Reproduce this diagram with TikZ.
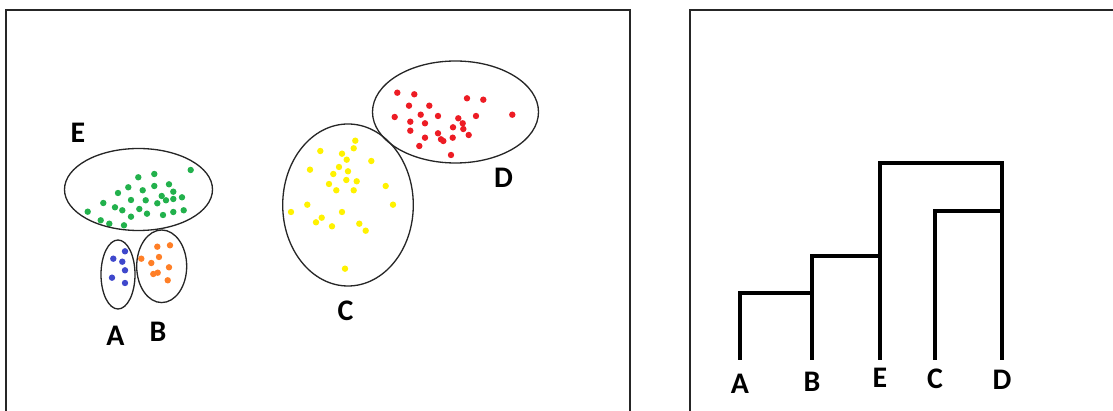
\documentclass[tikz,border=0pt]{standalone}
\usepackage{fontspec}
\setmainfont{Carlito}
\usepackage{xcolor}
\definecolor{ptgreen}{HTML}{22B14C}
\definecolor{ptblue}{HTML}{3F48CC}
\definecolor{ptorange}{HTML}{FF7F27}
\definecolor{ptyellow}{HTML}{FFF200}
\definecolor{ptred}{HTML}{ED1C24}

\begin{document}
\begin{tikzpicture}[x=0.02cm, y=-0.02cm,
    frame/.style={line width=1.3pt, black!85},
    cluster/.style={line width=0.75pt, black!85},
    link/.style={line width=2.3pt},
    lbl/.style={font=\fontsize{17}{20}\selectfont\bfseries, inner sep=0pt}]
  \useasboundingbox (0,0) rectangle (1113,411);

  % Draw the two panels, open at the bottom
  \draw[frame] (6,411) -- (6,10) -- (630,10) -- (630,411);
  \draw[frame] (690,411) -- (690,10) -- (1113,10);

  % points of each cluster
  \foreach \p in {(190.7,170),(154.3,174),(138.3,177.3),(128.3,187.3),(154.3,186),
    (169,184.3),(142.7,190.3),(118,193),(173.3,191.7),(161.7,196),(103.3,203),
    (131,200),(145.7,200.3),(157.3,203.3),(166,200.3),(173.3,199),(182,197.3),
    (115,207.3),(122.3,210.3),(139.3,209),(147,213.7),(131,216.7),(87.7,211.7),
    (163,215),(173.3,212),(183.7,210.3),(100.7,220.3),(109.3,223.7),(124,225.3)}
    \fill[ptgreen] \p circle (3.2);
  \foreach \p in {(125,251.3),(113.3,258.7),(122.3,261.7),(125,270.3),(112,277.7),(125,283)}
    \fill[ptblue] \p circle (3.2);
  \foreach \p in {(157.3,246.7),(170,245.3),(159,257),(141.3,258.7),(151.3,263),
    (169,267.3),(153.3,274),(157.7,272.7),(167.7,280.3)}
    \fill[ptorange] \p circle (3.2);
  \foreach \p in {(355.3,140.7),(353.7,148.3),(320.3,151),(342,153.7),(346.7,159.7),
    (371.3,161),(339,167),(310,169.7),(348,171.3),(333.3,174),(346.3,180),
    (356.7,181.3),(329,184),(385.7,186),(336.3,190.3),(353.7,190.3),(307.3,204.7),
    (393,204.7),(291,212),(342,212),(321.7,217.7),(316,222.3),(332,226.3),
    (359.3,223.7),(365.7,230.7),(345,268.7)}
    \fill[ptyellow] \p circle (3.2);
  \foreach \p in {(397.3,92.7),(414.3,94.3),(409,105.7),(429.3,105.7),(467,98.3),
    (483.3,99.7),(394.7,117),(420.7,114.7),(438,116),(476,116),(512.3,114.7),
    (410.3,121.7),(425,123.3),(458.3,118.3),(462.7,123.3),(453,127.3),(410.3,130.7),
    (463.3,129),(438,133.3),(468.7,135),(425,137.7),(441,139.3),(443.3,141),
    (452.7,137.7),(419.3,146),(451,155)}
    \fill[ptred] \p circle (3.2);

  % cluster outlines
  \draw[cluster] (138.5,189.5) ellipse (74 and 41);
  \draw[cluster] (118,274.5) ellipse (17 and 34.5);
  \draw[cluster] (161.7,266.3) ellipse (25 and 36.3);
  \draw[cluster] (348,205) ellipse (65.3 and 81);
  \draw[cluster] (455.5,112) ellipse (83 and 51);

  \node[lbl] (cE) at (78,132.5) {E};
  \node[lbl] (cA) at (115.5,335.5) {A};
  \node[lbl] (cB) at (158,332) {B};
  \node[lbl] (cC) at (345.5,311) {C};
  \node[lbl] (cD) at (503.5,177.5) {D};

  % dendrogram
  \node[lbl] (lA) at (740,384) {A};
  \node[lbl] (lB) at (812,381.5) {B};
  \node[lbl] (lE) at (880,378) {E};
  \node[lbl] (lC) at (935,379) {C};
  \node[lbl] (lD) at (1002,380) {D};
  \coordinate (a) at (740,360);
  \coordinate (b) at (812,360);
  \coordinate (e) at (880,360);
  \coordinate (c) at (935,360);
  \coordinate (d) at (1002,360);
  \draw[link] (a) |- (812,293);
  \draw[link] (b) |- (880,256);
  \draw[link] (e) |- (1002,163) -- (d);
  \draw[link] (c) |- (1002,211);
\end{tikzpicture}
\end{document}
